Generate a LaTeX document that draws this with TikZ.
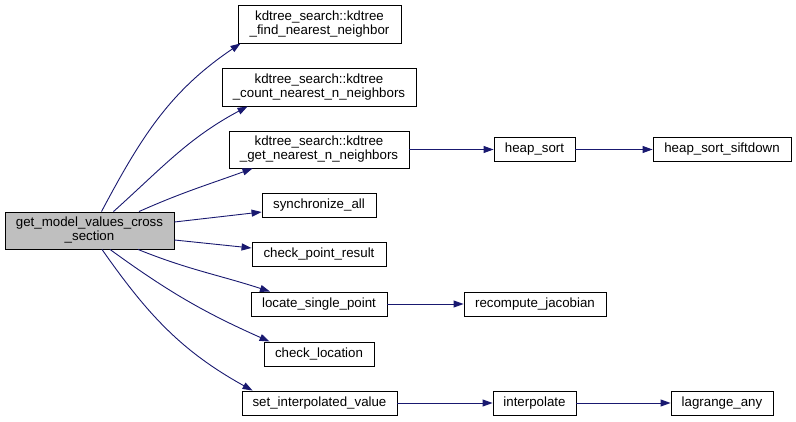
\documentclass[tikz,border=0pt]{standalone}
\usepackage{fontspec}
\setmainfont{Liberation Sans}
\usetikzlibrary{arrows.meta}
\definecolor{edgeblue}{HTML}{191970}
\definecolor{rootgray}{HTML}{BFBFBF}
\tikzset{
  fn/.style={draw=black, line width=0.9pt, fill=white, rectangle, inner sep=0pt, align=center,
    font=\fontsize{13.3}{14}\selectfont, minimum height=24pt},
  callarrow/.style={draw=edgeblue, line width=0.9pt, -{Triangle[length=10pt,width=7pt]}}
}
\begin{document}
\begin{tikzpicture}[x=1pt,y=1pt]
\useasboundingbox (0,0) rectangle (796,421);
\node[fn, fill=rootgray, minimum width=169pt, minimum height=37pt] (root) at (89.5,190.5) {get\_model\_values\_cross\\\_section};
\node[fn, minimum width=163pt, minimum height=38pt] (find) at (319.5,397) {kdtree\_search::kdtree\\\_find\_nearest\_neighbor};
\node[fn, minimum width=194pt, minimum height=38pt] (count) at (319,334) {kdtree\_search::kdtree\\\_count\_nearest\_n\_neighbors};
\node[fn, minimum width=180pt, minimum height=37pt] (get) at (319,271.5) {kdtree\_search::kdtree\\\_get\_nearest\_n\_neighbors};
\node[fn, minimum width=114pt] (sync) at (319,216) {synchronize\_all};
\node[fn, minimum width=134pt] (cpr) at (319,166.5) {check\_point\_result};
\node[fn, minimum width=136pt] (locate) at (319,117) {locate\_single\_point};
\node[fn, minimum width=110pt] (checkloc) at (319,67) {check\_location};
\node[fn, minimum width=155pt] (setint) at (319.5,18) {set\_interpolated\_value};
\node[fn, minimum width=81pt] (heapsort) at (534.5,271.5) {heap\_sort};
\node[fn, minimum width=138pt] (siftdown) at (722,271.5) {heap\_sort\_siftdown};
\node[fn, minimum width=142pt] (recompute) at (535,117) {recompute\_jacobian};
\node[fn, minimum width=83pt] (interp) at (534.5,18) {interpolate};
\node[fn, minimum width=102pt] (lagrange) at (722,18) {lagrange\_any};

\draw[callarrow] ([xshift=12pt]root.north) to[out=62,in=214] ([xshift=3pt]find.south west);
\draw[callarrow] ([xshift=24pt]root.north) to[out=42,in=208] ([xshift=26pt]count.south west);
\draw[callarrow] ([xshift=49.5pt]root.north) to[out=24,in=200] ([xshift=24pt]get.south west);
\draw[callarrow] ([yshift=8.5pt]root.east) -- ([yshift=-7pt]sync.west);
\draw[callarrow] ([yshift=-9.5pt]root.east) -- ([yshift=6.5pt]cpr.west);
\draw[callarrow] ([xshift=48.5pt]root.south) to[out=-22,in=162] ([xshift=-49pt]locate.north);
\draw[callarrow] ([xshift=20.5pt]root.south) to[out=-36,in=156] ([xshift=6pt]checkloc.north west);
\draw[callarrow] ([xshift=12.5pt]root.south) to[out=-55,in=151] ([xshift=11pt]setint.north west);
\draw[callarrow] (get.east) -- (heapsort.west);
\draw[callarrow] (heapsort.east) -- (siftdown.west);
\draw[callarrow] (locate.east) -- (recompute.west);
\draw[callarrow] (setint.east) -- (interp.west);
\draw[callarrow] (interp.east) -- (lagrange.west);
\end{tikzpicture}
\end{document}
